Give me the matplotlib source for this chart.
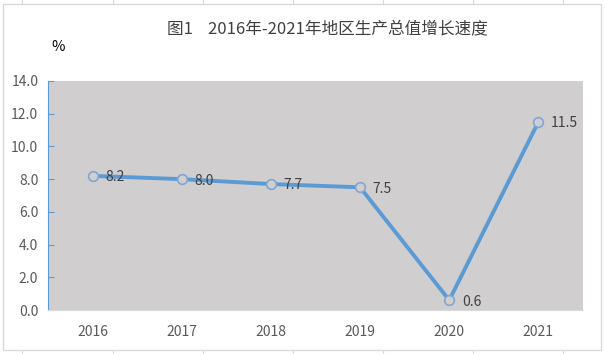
import matplotlib
matplotlib.use("Agg")
import matplotlib.pyplot as plt
from matplotlib.patches import Rectangle
from matplotlib.lines import Line2D

plt.rcParams['font.family'] = ['Noto Sans CJK SC', 'DejaVu Sans']

years = ["2016", "2017", "2018", "2019", "2020", "2021"]
growth = [8.2, 8.0, 7.7, 7.5, 0.6, 11.5]
title = "图1    2016年-2021年地区生产总值增长速度"
unit = "%"

line_blue = "#5B9BD5"
plot_gray = "#D0CECE"
text_gray = "#404040"

fig = plt.figure(figsize=(6.05, 3.54), dpi=100)
fig.patch.set_facecolor("white")

# spreadsheet grid peeking around the chart frame
for gx in [22, 113, 203, 293, 383, 473, 563]:
    fig.add_artist(Line2D([gx / 605, gx / 605], [1, 1 - 3 / 354], color="#D9D9D9", lw=0.8))
    fig.add_artist(Line2D([gx / 605, gx / 605], [0, 4 / 354], color="#D9D9D9", lw=0.8))
# chart frame
fig.add_artist(Rectangle((3 / 605, 4 / 354), 598 / 605, 346 / 354, transform=fig.transFigure,
                         fill=False, edgecolor="#D9D9D9", lw=1))

ax = fig.add_axes([48 / 605, 44 / 354, 535 / 605, 229 / 354])
ax.set_facecolor(plot_gray)
x = list(range(len(years)))
ax.plot(x, growth, color=line_blue, lw=2.8, marker="o", markersize=7,
        markerfacecolor=plot_gray, markeredgecolor="#7EA6D6", markeredgewidth=1.2, zorder=3)

for xi, v in zip(x, growth):
    ax.annotate("%.1f" % v, (xi, v), xytext=(9, -1), textcoords="offset points",
                ha="left", va="center", fontsize=10, color=text_gray)

ax.set_xlim(-0.5, 5.5)
ax.set_ylim(0, 14)
ax.set_yticks([0, 2, 4, 6, 8, 10, 12, 14])
ax.set_yticklabels(["%.1f" % t for t in ax.get_yticks()])
ax.set_xticks(x)
ax.set_xticklabels(years)
ax.tick_params(axis="x", length=0, pad=11, labelsize=10, labelcolor="#595959")
ax.tick_params(axis="y", direction="in", length=4, color=line_blue, pad=7,
               labelsize=10, labelcolor="#595959")

for s in ["top", "right"]:
    ax.spines[s].set_visible(False)
ax.spines["left"].set_color(line_blue)
ax.spines["left"].set_linewidth(0.8)
ax.spines["bottom"].set_color("#D9D9D9")
ax.spines["bottom"].set_linewidth(0.8)

fig.text(327 / 605, 1 - 30 / 354, title, ha="center", va="center", fontsize=12, color=text_gray)
fig.text(58 / 605, 1 - 47 / 354, unit, ha="center", va="center", fontsize=10.5, color="black")

fig.savefig("out.png", dpi=100)
